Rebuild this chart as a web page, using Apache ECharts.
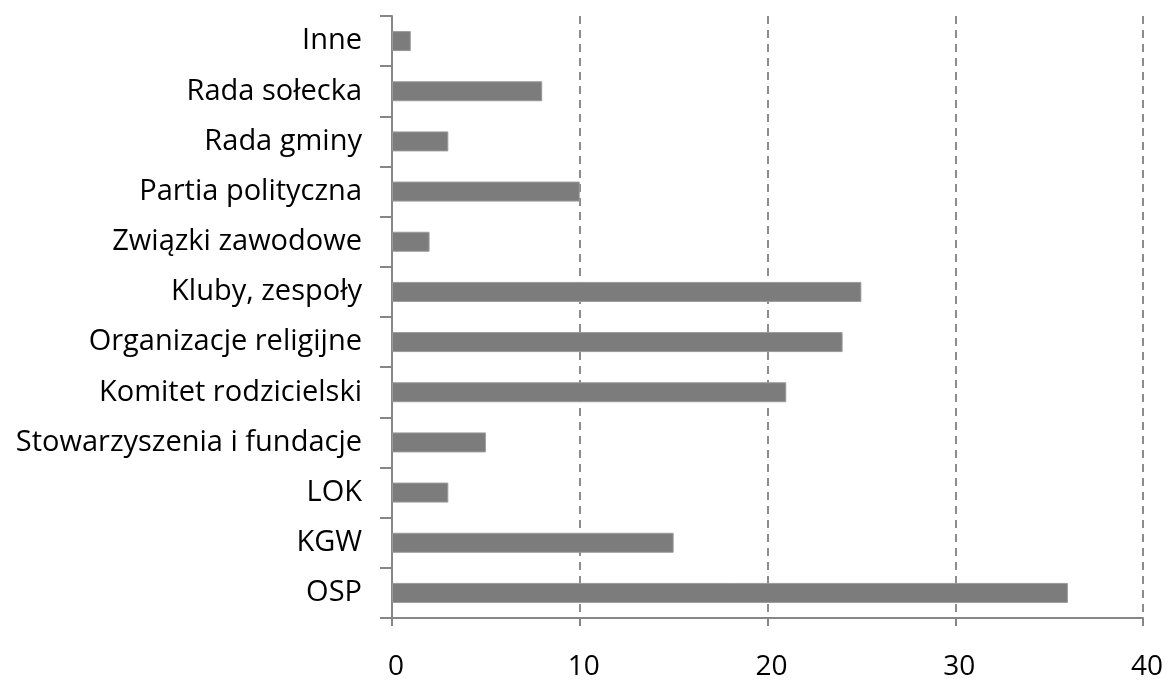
<!DOCTYPE html>
<html><head><meta charset="utf-8">
<script src="https://cdn.jsdelivr.net/npm/echarts@6/dist/echarts.min.js"></script>
<style>html,body{margin:0;padding:0;background:#fff}#c{width:1169px;height:681px}</style>
</head><body><div id="c"></div>
<script>
const categories = ['OSP','KGW','LOK','Stowarzyszenia i fundacje','Komitet rodzicielski','Organizacje religijne','Kluby, zespoły','Związki zawodowe','Partia polityczna','Rada gminy','Rada sołecka','Inne'];
const values = [36,15,3,5,21,24,25,2,10,3,8,1];
const xTicks = [0,10,20,30,40];

const chart = echarts.init(document.getElementById('c'));
chart.setOption({
  animation:false,
  grid:{left:392,right:26,top:16,bottom:61,containLabel:false},
  xAxis:{type:'value',min:xTicks[0],max:xTicks[xTicks.length-1],interval:10,
    axisLine:{show:true,lineStyle:{color:'#868686',width:2}},
    axisTick:{show:true,length:8,lineStyle:{color:'#868686',width:2}},
    axisLabel:{color:'#000',fontSize:28,fontFamily:'Open Sans',margin:35,padding:[0,0,0,8]},
    splitLine:{show:true,lineStyle:{color:'#8c8c8c',width:2,type:[8,6]}}},
  yAxis:{type:'category',data:categories,
    axisLine:{show:true,lineStyle:{color:'#868686',width:2}},
    axisTick:{show:true,length:12,alignWithLabel:false,lineStyle:{color:'#868686',width:2}},
    axisLabel:{color:'#000',fontSize:29,fontFamily:'Open Sans',margin:30},
    splitLine:{show:false}},
  series:[{type:'bar',data:values,barWidth:20,
    itemStyle:{color:'#7c7c7c',borderColor:'#9a9a9a',borderWidth:1}}]
});
</script></body></html>
